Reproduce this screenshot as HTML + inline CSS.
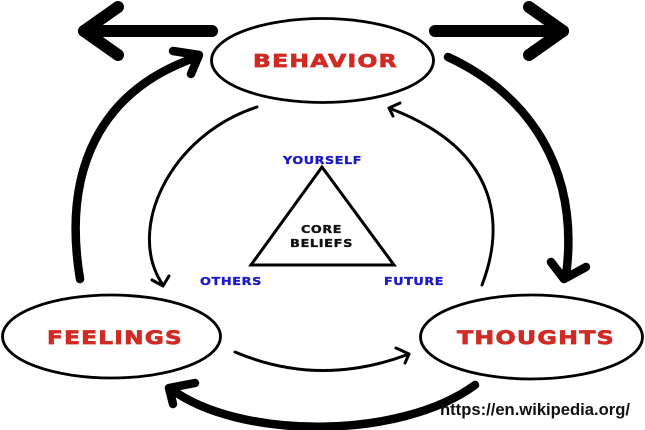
<!DOCTYPE html>
<html>
<head>
<meta charset="utf-8">
<style>
html,body{margin:0;padding:0;background:#fff;}
svg{display:block;}
</style>
</head>
<body>
<svg width="645" height="430" viewBox="0 0 645 430" xmlns="http://www.w3.org/2000/svg">
<rect width="645" height="430" fill="#fff"/>
<g fill="none" stroke="#000" stroke-linecap="round" stroke-linejoin="round">
  <!-- top horizontal arrows -->
  <path d="M212 31 L84 31" stroke-width="12"/>
  <path d="M118 7 L84 31 L118 55" stroke-width="12"/>
  <path d="M435 31 L563 31" stroke-width="12"/>
  <path d="M529 7 L563 31 L529 55" stroke-width="12"/>

  <!-- ellipses -->
  <ellipse cx="322.5" cy="60.5" rx="111" ry="42" stroke-width="2.8"/>
  <ellipse cx="111.5" cy="336.5" rx="109" ry="41.5" stroke-width="2.8"/>
  <ellipse cx="531.5" cy="337" rx="111" ry="42" stroke-width="2.8"/>

  <!-- thick arcs -->
  <path d="M80 279 C62 170 100 90 197 57" stroke-width="8.5"/>
  <path d="M173 51 L199 55 L191 74" stroke-width="8.5"/>

  <path d="M448 57 C530 95 580 170 566 276" stroke-width="8.5"/>
  <path d="M551 262 L564 279 L586 267" stroke-width="8.5"/>

  <path d="M475 385 C400 440 240 440 171 389" stroke-width="8.5"/>
  <path d="M195 383 L169 388 L173 404" stroke-width="8.5"/>

  <!-- thin arcs -->
  <path d="M257 107 C170 135 125 230 163 285" stroke-width="3"/>
  <path d="M152 280 L163 286 L169 276" stroke-width="3"/>

  <path d="M482 285 C505 225 500 150 389 108" stroke-width="3"/>
  <path d="M400 103 L389 108 L393 116" stroke-width="3"/>

  <path d="M235 352 Q320 388 409 354" stroke-width="3"/>
  <path d="M396 348 L409 354 L405 363" stroke-width="3"/>

  <!-- triangle -->
  <path d="M322 167 L251 265 L394 265 Z" stroke-width="3" stroke-linejoin="miter"/>
</g>

<g font-family="'DejaVu Sans', 'Liberation Sans', sans-serif" font-weight="bold">
  <g fill="#d02a24" stroke="#d02a24" stroke-width="0.7">
    <text x="253" y="67" font-size="18" letter-spacing="1" textLength="145" lengthAdjust="spacingAndGlyphs">BEHAVIOR</text>
    <text x="47" y="344" font-size="19" letter-spacing="1" textLength="136" lengthAdjust="spacingAndGlyphs">FEELINGS</text>
    <text x="457" y="344" font-size="19" letter-spacing="1" textLength="158" lengthAdjust="spacingAndGlyphs">THOUGHTS</text>
  </g>
  <g fill="#1a1ac8" stroke="#1a1ac8" stroke-width="0.35">
    <text x="283" y="164" font-size="11" letter-spacing="0.5" textLength="79" lengthAdjust="spacingAndGlyphs">YOURSELF</text>
    <text x="200" y="285" font-size="11" letter-spacing="0.5" textLength="62" lengthAdjust="spacingAndGlyphs">OTHERS</text>
    <text x="384" y="285" font-size="11" letter-spacing="0.5" textLength="60" lengthAdjust="spacingAndGlyphs">FUTURE</text>
  </g>
  <g fill="#111" stroke="#111" stroke-width="0.35">
    <text x="301" y="233" font-size="11" letter-spacing="0.5" textLength="41" lengthAdjust="spacingAndGlyphs">CORE</text>
    <text x="290" y="247" font-size="11" letter-spacing="0.5" textLength="63" lengthAdjust="spacingAndGlyphs">BELIEFS</text>
  </g>
</g>

<text x="440" y="415" font-family="'Liberation Sans', sans-serif" font-weight="bold" font-size="17" fill="#111" textLength="190" lengthAdjust="spacingAndGlyphs">https://en.wikipedia.org/</text>
</svg>
</body>
</html>
